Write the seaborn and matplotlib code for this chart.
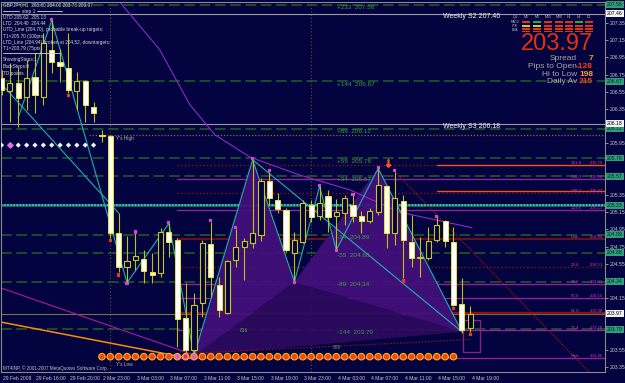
import numpy as np
import pandas as pd
import seaborn as sns
import matplotlib
matplotlib.use("Agg")
import matplotlib.pyplot as plt
import matplotlib.transforms as mtrans
from matplotlib.patches import Polygon, Rectangle
from matplotlib.lines import Line2D

# ---------------- data ----------------
opens = [206.71, 206.56, 206.65, 206.49, 206.72, 206.49, 207.04, 206.90, 206.83, 206.56,
         206.68, 206.37, 206.05, 206.04, 204.91, 204.51, 204.59, 204.61, 204.45, 204.44,
         204.92, 204.83, 203.92, 203.55, 204.09, 204.78, 204.30, 203.98, 204.59, 204.75,
         204.79, 204.89, 205.51, 205.29, 205.18, 204.68, 204.80, 205.23, 205.11, 205.34,
         205.11, 205.14, 205.23, 205.11, 205.05, 205.15, 205.45, 204.91, 205.28, 204.80,
         204.62, 204.62, 204.83, 205.05, 204.80, 204.08, 203.80]
highs = [206.80, 206.88, 206.84, 206.92, 207.00, 207.23, 207.38, 207.05, 207.23, 206.78,
         206.69, 206.43, 206.11, 206.05, 205.14, 204.87, 204.91, 204.71, 204.68, 204.97,
         205.02, 204.85, 204.33, 204.21, 204.83, 205.04, 204.40, 204.60, 204.96, 204.85,
         205.76, 205.55, 205.62, 205.37, 205.20, 204.92, 205.29, 205.29, 205.45, 205.41,
         205.30, 205.35, 205.35, 205.16, 205.20, 205.66, 205.47, 205.62, 205.35, 205.12,
         204.86, 204.98, 205.09, 205.06, 204.98, 204.38, 204.06]
lows = [206.51, 206.20, 206.14, 206.34, 206.30, 206.40, 206.77, 206.66, 206.54, 206.34,
        206.20, 206.20, 205.97, 204.85, 204.45, 204.33, 204.48, 204.33, 204.33, 204.40,
        204.63, 203.58, 203.50, 203.48, 203.93, 204.16, 203.93, 203.97, 204.51, 204.36,
        204.73, 204.82, 205.23, 205.14, 204.69, 204.34, 204.79, 205.04, 205.06, 204.92,
        204.71, 205.00, 205.04, 204.91, 205.02, 205.12, 204.73, 204.77, 204.38, 204.51,
        204.40, 204.59, 204.80, 204.75, 204.06, 203.75, 203.76]
closes = [206.57, 206.65, 206.48, 206.71, 206.51, 207.12, 206.90, 206.85, 206.57, 206.68,
          206.40, 206.30, 206.04, 204.91, 204.51, 204.58, 204.64, 204.47, 204.42, 204.92,
          204.80, 203.91, 203.55, 204.07, 204.79, 204.40, 204.01, 204.58, 204.75, 204.82,
          204.91, 205.51, 205.32, 205.19, 204.71, 204.83, 205.26, 205.09, 205.26, 205.09,
          205.15, 205.32, 205.11, 205.05, 205.16, 205.47, 204.91, 205.32, 204.83, 204.62,
          204.63, 204.82, 205.00, 204.82, 204.07, 203.78, 203.97]

tick_idx = [0, 4, 8, 12, 16, 20, 24, 28, 32, 36, 40, 44, 48, 52, 56]
tick_labels = ["29 Feb 2008", "29 Feb 16:00", "29 Feb 20:00", "2 Mar 23:00", "3 Mar 03:00",
               "3 Mar 07:00", "3 Mar 11:00", "3 Mar 15:00", "3 Mar 19:00", "3 Mar 23:00",
               "4 Mar 03:00", "4 Mar 07:00", "4 Mar 11:00", "4 Mar 15:00", "4 Mar 19:00"]
day_separators = [13, 37]
price_ticks = [207.35, 207.15, 206.95, 206.75, 206.55, 206.35, 205.95, 205.35, 205.15,
               204.95, 204.75, 204.55, 204.15, 203.55, 203.35]

pivot_price = 205.23
level_offsets = [233, 144, 89, 55, 34, -34, -55, -89, -144]
level_prices = [207.56, 206.67, 206.12, 205.78, 205.57, 204.89, 204.68, 204.34, 203.79]
weekly_names = ["Weekly S2", "Weekly S3"]
weekly_prices = [207.46, 206.18]
bid_price = 203.97
yhigh_price = 206.05

fib_names = ["161.8", "150.0", "138.2", "123.6", "Low", "23.6", "38.2", "50.0", "61.8", "76.4", "High"]
fib_prices = [205.70, 205.54, 205.37, 205.17, 204.84, 204.51, 204.31, 204.15, 203.98, 203.78, 203.45]
fib_start = 21
orange_prices = [205.70, 205.40]
orange_start = 52

pattern_idx = [23, 30, 35, 45, 55]        # X A B C D
pattern_price = [203.48, 205.76, 204.34, 205.66, 203.76]
zig_idx = [6, 15, 20, 23, 30, 35, 38, 40, 45, 55]
zig_price = [207.38, 204.33, 205.02, 203.48, 205.76, 204.34, 205.45, 204.71, 205.66, 203.76]
extra_cyan_idx = [[0, 14], [30, 55], [6, 2]]
extra_cyan_price = [[206.64, 205.14], [205.76, 203.76], [207.38, 206.25]]

ma_idx = [13.9, 18.9, 22.5, 25.5, 29.7, 35.7, 41.6, 47.6, 56.2]
ma_price = [207.62, 207.04, 206.40, 206.05, 205.79, 205.58, 205.41, 205.15, 204.97]
orange_diag_idx = [-1, 22.5]
orange_diag_price = [203.89, 203.45]
magenta_diag_idx = [-1, 23]
magenta_diag_price = [204.30, 203.49]
red_diag_idx = [47, 71.5]
red_diag_price = [205.62, 203.16]
red_low_idx = [23, 56]
red_low_price = [203.51, 203.67]

red_dot_idx = [8, 13, 14, 22, 48, 54, 56]
pink_high_idx = [6, 16, 20, 25, 28, 30, 32, 38, 42, 45, 47, 52]
pink_low_idx = [15, 35, 40]
diamond_idx = list(range(0, 12))
diamond_price = 205.93
circle_idx = list(range(12, 55))
circle_price = 203.47
box_idx = [55.1, 57.2]
box_price = [203.52, 203.90]

header = "GBPJPY,H1  203.80 204.06 203.76 203.97"
info_lines = ["UTD 205.62  205.13", "LTD  204.40  204.44",
              "UTD_Line (204.70), probable break-up targets:", "T1=205.70 (100pts)",
              "LTD_Line (204.94) broken at 204.52, downtargets:", "T1=203.79 (75pts)"]
info_lines2 = ["ShowingSteps:1", "BackSteps:0", "TD points"]
panel_cols = ["Q4", "M1", "M5", "M15", "M30", "H1", "H4", "D1"]
panel_rows = ["MACD", "STR", "EMA"]
stat_names = ["Spread", "Pips to Open", "Hi to Low", "Daily Av"]
stat_values = ["7", "-128", "198", "215"]
current_price = "203.97"

# ---------------- style ----------------
sns.set_theme(style="dark")
plt.rcParams['font.family'] = ['Liberation Sans', 'DejaVu Sans']
BG = '#03033f'
W, H = 625, 383
def fx(px): return px / W
def fy(py): return 1 - py / H
def xi(px): return (px - 1.5) / 8.37

fig = plt.figure(figsize=(6.25, 3.83), dpi=100, facecolor=BG)
ax = fig.add_axes([fx(1), fy(372), (605 - 1) / W, (372 - 2) / H], facecolor=BG)
ax.grid(False)
ax.set_xlim(xi(1), xi(605))
ax.set_ylim(203.292, 207.594)

# separators
for s in day_separators:
    ax.axvline(s, color='#5a5a32', lw=0.8, ls=(0, (1, 2)), zorder=1)

# pivot levels
GREEN = '#21602a'
for off, p in zip(level_offsets, level_prices):
    ax.axhline(p, color=GREEN, lw=1.1, ls=(0, (7, 3)), zorder=1)
    ax.text(xi(337), p - 0.035, f"{off:+d}  {p:.2f}", color='#3f9a45', fontsize=4.6,
            va='center', ha='left', zorder=5)
ax.axhline(pivot_price, color='#1c6f5c', lw=2.0, zorder=1)
ax.axhline(pivot_price, color='#3fc7c7', lw=1.4, ls=(0, (0.8, 0.8)), zorder=1)

for nm, p in zip(weekly_names, weekly_prices):
    ax.axhline(p, color='#9a9a9a', lw=0.8, zorder=1)
    ax.text(xi(443), p - 0.035, f"{nm} {p:.2f}", color='#f2f2f2', fontsize=5.0,
            va='center', ha='left', zorder=5)
ax.axhline(bid_price, color='#6c7345', lw=0.8, zorder=1)
ax.plot([10.5, xi(605)], [yhigh_price, yhigh_price], color='#707a35', lw=0.9,
        ls=(0, (1, 1.5)), zorder=1)
ax.text(xi(116), yhigh_price - 0.04, "Y's High", color='#b8b8b8', fontsize=3.4, va='center')
ax.text(xi(116), circle_price - 0.09, "Y's Low", color='#b8b8b8', fontsize=3.4, va='center')

# fib levels
MAG = '#a21ca2'
DRED = '#8a1212'
fib_styles = {"161.8": (DRED, ':', 1.0), "150.0": (MAG, '-', 0.9), "138.2": (DRED, ':', 1.0),
              "123.6": (MAG, '-', 0.9), "Low": (DRED, '-', 1.1), "23.6": (DRED, ':', 1.0),
              "38.2": (MAG, '-', 0.9), "50.0": (MAG, '-', 0.9), "61.8": (DRED, '-', 1.6),
              "76.4": (MAG, '-', 0.9), "High": (MAG, '-', 0.9)}
for nm, p in zip(fib_names, fib_prices):
    c, ls, lw = fib_styles[nm]
    ax.plot([fib_start, xi(605)], [p, p], color=c, ls=ls, lw=lw, zorder=1.2)
    ax.text(xi(571), p + 0.025, nm, color='#c23cc2', fontsize=3.2, va='center', ha='left', zorder=5)
    ax.text(xi(590), p + 0.025, f"{p:.2f}", color='#c23cc2', fontsize=3.2, va='center',
            ha='left', zorder=5, clip_on=True)
for p in orange_prices:
    ax.plot([orange_start, xi(605)], [p, p], color='#f0501a', lw=1.0, zorder=1.3)

# harmonic pattern triangles
X, A, B, C, D = list(zip(pattern_idx, pattern_price))
for tri, col in [((X, B, D), '#2c0a5e'), ((X, A, B), '#41107a'), ((B, C, D), '#41107a')]:
    ax.add_patch(Polygon(tri, closed=True, fc=col, ec='none', alpha=0.95, zorder=1.5))

# diagonal lines
ax.plot(ma_idx, ma_price, color='#8a2cc8', lw=0.8, zorder=1.8)
ax.plot(orange_diag_idx, orange_diag_price, color='#ff8c00', lw=1.1, zorder=1.8)
ax.plot(magenta_diag_idx, magenta_diag_price, color='#b0189a', lw=0.8, zorder=1.8)
ax.plot(red_diag_idx, red_diag_price, color='#9a1414', lw=0.9, ls=(0, (1, 1)), zorder=1.8)
ax.plot(red_low_idx, red_low_price, color='#9a1414', lw=0.9, ls=(0, (1, 1.5)), zorder=1.8)

# cyan zigzags
zz = pd.DataFrame({"i": zig_idx, "p": zig_price})
ax.plot(zz["i"], zz["p"], color='#1fb0b0', lw=0.8, zorder=2)
for xs, ys in zip(extra_cyan_idx, extra_cyan_price):
    ax.plot(xs, ys, color='#1fb0b0', lw=0.8, zorder=2)

# box
ax.add_patch(Rectangle((box_idx[0], box_price[0]), box_idx[1] - box_idx[0],
                       box_price[1] - box_price[0], fc='none', ec='#8c1f8c', lw=0.9, zorder=2))

# candles
df = pd.DataFrame({"i": np.arange(len(opens)), "o": opens, "h": highs, "l": lows, "c": closes})
bear = df["c"] < df["o"]
ax.vlines(df["i"], df["l"], df["h"], color='#c0c010', lw=0.8, zorder=3)
ax.bar(df["i"][bear], (df["o"] - df["c"])[bear], bottom=df["c"][bear], width=0.62,
       color='#ffffff', edgecolor='#e6e628', linewidth=0.7, zorder=3.2)
ax.bar(df["i"][~bear], (df["c"] - df["o"])[~bear].clip(lower=0.012), bottom=df["o"][~bear],
       width=0.62, color=BG, edgecolor='#c8c81a', linewidth=0.8, zorder=3.2)

# markers
sns.scatterplot(x=diamond_idx, y=[diamond_price] * len(diamond_idx), marker='D', s=7,
                color='#f4f4f4', edgecolor='none', ax=ax, zorder=4, legend=False)
ax.scatter([1], [diamond_price], marker='D', s=7, color='#e070e0', zorder=4.1)
ax.plot([circle_idx[0], circle_idx[-1]], [circle_price, circle_price], color='#e02020', lw=0.8, zorder=3.5)
circ_col = ['#e060c0' if k in (21, 22, 23) else '#e84a10' for k in circle_idx]
ax.scatter(circle_idx, [circle_price] * len(circle_idx), s=22, c=circ_col,
           edgecolors='#ffb020', linewidths=0.8, zorder=4)
sns.scatterplot(x=red_dot_idx, y=[lows[k] - 0.03 for k in red_dot_idx], marker='s', s=5,
                color='#ff2a2a', edgecolor='none', ax=ax, zorder=4.2, legend=False)
sns.scatterplot(x=pink_high_idx + pink_low_idx,
                y=[highs[k] + 0.01 for k in pink_high_idx] + [lows[k] - 0.01 for k in pink_low_idx],
                marker='s', s=5, color='#e040e0', edgecolor='none', ax=ax, zorder=4.2, legend=False)
ax.scatter([46.2], [highs[46] + 0.25], marker=r'$\downarrow$', s=28, color='#ff5020', zorder=4.3)
ax.text(xi(240), 203.78, "816", color='#5aaa4a', fontsize=3.4, va='center', zorder=5)
ax.text(xi(333), 203.58, "889", color='#5aaa4a', fontsize=3.4, va='center', zorder=5)

# axes / ticks
for sp in ax.spines.values():
    sp.set_color('#8a8a8a'); sp.set_linewidth(0.8)
ax.yaxis.tick_right()
ax.set_yticks(price_ticks)
ax.set_yticklabels([f"{p:.2f}" for p in price_ticks])
ax.tick_params(axis='y', colors='#c8c8c8', labelsize=3.7, length=2, width=0.5, pad=1.2, direction='out')
ax.set_xticks(tick_idx)
ax.set_xticklabels(tick_labels)
ax.tick_params(axis='x', colors='#c8c8c8', labelsize=3.6, length=2, width=0.5, pad=1.0, direction='out')
off = mtrans.ScaledTranslation(1.5 / 100, 0, fig.dpi_scale_trans)
for lab in ax.get_xticklabels():
    lab.set_horizontalalignment('left')
    lab.set_transform(lab.get_transform() + off)
ax.set_xlabel(""); ax.set_ylabel("")

# right-axis boxed labels
bt = mtrans.blended_transform_factory(fig.transFigure, ax.transData)
for p in level_prices + [pivot_price]:
    ax.text(fx(607), p, f"{p:.2f}", transform=bt, fontsize=3.7, color='#04281a', va='center',
            ha='left', clip_on=False, zorder=6,
            bbox=dict(boxstyle='square,pad=0.18', fc='#2f9c7c', ec='none'))
for p in weekly_prices + [bid_price]:
    ax.text(fx(607), p, f"{p:.2f}", transform=bt, fontsize=3.7, color='#000000', va='center',
            ha='left', clip_on=False, zorder=6,
            bbox=dict(boxstyle='square,pad=0.18', fc='#f4f4f4', ec='none'))

# top-left text block
TXT = '#d4d4d4'
fig.text(fx(3), fy(5), header, fontsize=3.4, color=TXT, va='center')
fig.text(fx(22), fy(11), "step 1", fontsize=3.4, color=TXT, va='center')
fig.add_artist(Line2D([fx(3), fx(19)], [fy(11), fy(11)], color=TXT, lw=0.6))
fig.add_artist(Line2D([fx(37), fx(62)], [fy(11), fy(11)], color=TXT, lw=0.6))
for k, t in enumerate(info_lines):
    fig.text(fx(3), fy(17.5 + k * 6.2), t, fontsize=3.4, color=TXT, va='center')
fig.add_artist(Line2D([fx(3), fx(60)], [fy(53), fy(53)], color=TXT, lw=0.6))
for k, t in enumerate(info_lines2):
    fig.text(fx(3), fy(60 + k * 6.5), t, fontsize=3.4, color=TXT, va='center')
fig.text(fx(3), fy(368), "MT4INP, \u00a9 2001-2007 MetaQuotes Software Corp.", fontsize=3.3,
         color='#c0c0c0', va='center')

# top-right panel
col_x = [515, 526, 537, 548, 559, 569, 579, 589]
for cx, nm in zip(col_x, panel_cols):
    fig.text(fx(cx), fy(17), nm, fontsize=2.6, color='#c0c0c0', ha='center', va='center')
for k, nm in enumerate(panel_rows):
    fig.text(fx(515), fy(22 + k * 4), nm, fontsize=2.2, color='#c0c0c0', ha='center', va='center')
RED, GRN, YEL = '#e23414', '#18b43a', '#e6c414'
cell_rows = [[RED, GRN, RED, RED, RED, GRN, RED],
             [YEL, YEL, RED, RED, RED, RED, RED],
             [RED, RED, RED, RED, RED, RED, RED],
             [RED, RED, RED, RED, RED, RED, RED]]
row_y = [(20.6, 23.4), (24.6, 27.0), (28.0, 29.6), (30.6, 32.4)]
for (y0, y1), cols in zip(row_y, cell_rows):
    for cx, c in zip(col_x[1:], cols):
        fig.add_artist(Rectangle((fx(cx - 4.3), fy(y1)), 8.6 / W, (y1 - y0) / H,
                                 transform=fig.transFigure, fc=c, ec='none'))
fig.text(fx(556.5), fy(44), current_price, fontsize=17, color='#e8300c', ha='center', va='center')
stat_cols = ['#ffa020', '#ff3a10', '#ffa020', '#ff3a10']
for k, (nm, v, c) in enumerate(zip(stat_names, stat_values, stat_cols)):
    yy = fy(59 + k * 7.6)
    fig.text(fx(577), yy, nm, fontsize=6, color='#a8a8a8', ha='right', va='center')
    fig.text(fx(593), yy, v, fontsize=6, color=c, ha='right', va='center', fontweight='bold')

fig.savefig("out.png", dpi=100, facecolor=BG)
